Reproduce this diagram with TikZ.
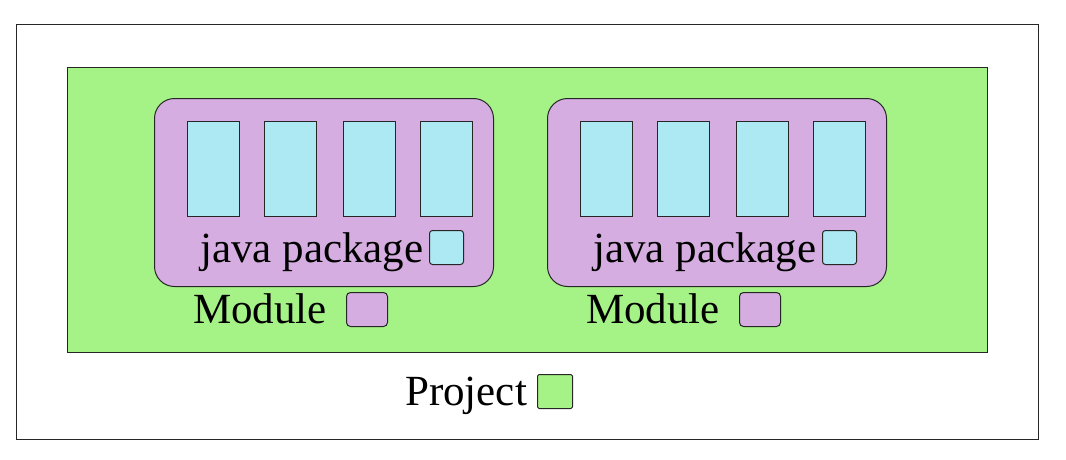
\documentclass[tikz,border=0pt]{standalone}
\usepackage{fontspec}
\setmainfont{Liberation Serif}
\definecolor{projgreen}{RGB}{165,242,135}
\definecolor{modpurple}{RGB}{213,173,224}
\definecolor{pkgblue}{RGB}{172,233,242}
\begin{document}
\begin{tikzpicture}[x=1pt,y=-1pt,
  box/.style={draw=black!85, line width=1pt, inner sep=0pt, anchor=north west},
  projectbox/.style={box, fill=projgreen},
  modulebox/.style={box, fill=modpurple, rounded corners=20pt},
  classbox/.style={box, fill=pkgblue},
  keybox/.style={box, rounded corners=3pt},
  lbl/.style={inner sep=0pt, anchor=base west, font=\fontsize{43}{50}\selectfont}]
\useasboundingbox (0,0) rectangle (1066,459);
\node[box, line width=1.5pt, minimum width=1022pt, minimum height=415pt] (outer) at (15.5,23.5) {};
\node[projectbox, minimum width=920pt, minimum height=285pt] (project) at (67,67) {};
\foreach \g/\dx in {1/0, 2/393}{
  \node[modulebox, minimum width=339pt, minimum height=188pt] (mod\g) at (154+\dx,98) {};
  \foreach \i/\x in {1/187, 2/264, 3/343, 4/420}{
    \node[classbox, minimum width=52pt, minimum height=95pt] (cls\g\i) at (\x+\dx,121) {};
  }
  \node[lbl] (pkglabel\g) at (200+\dx,262) {java package};
  \node[classbox, keybox, minimum width=34pt, minimum height=34pt] (pkgkey\g) at (429+\dx,230) {};
  \node[lbl] (modlabel\g) at (193+\dx,323) {Module};
  \node[keybox, fill=modpurple, rounded corners=4pt, minimum width=41pt, minimum height=34pt] (modkey\g) at (346+\dx,292) {};
}
\node[lbl] (projlabel) at (405,405) {Project};
\node[keybox, fill=projgreen, rounded corners=1.5pt, minimum width=35pt, minimum height=34pt] (projkey) at (537,374) {};
\end{tikzpicture}
\end{document}
